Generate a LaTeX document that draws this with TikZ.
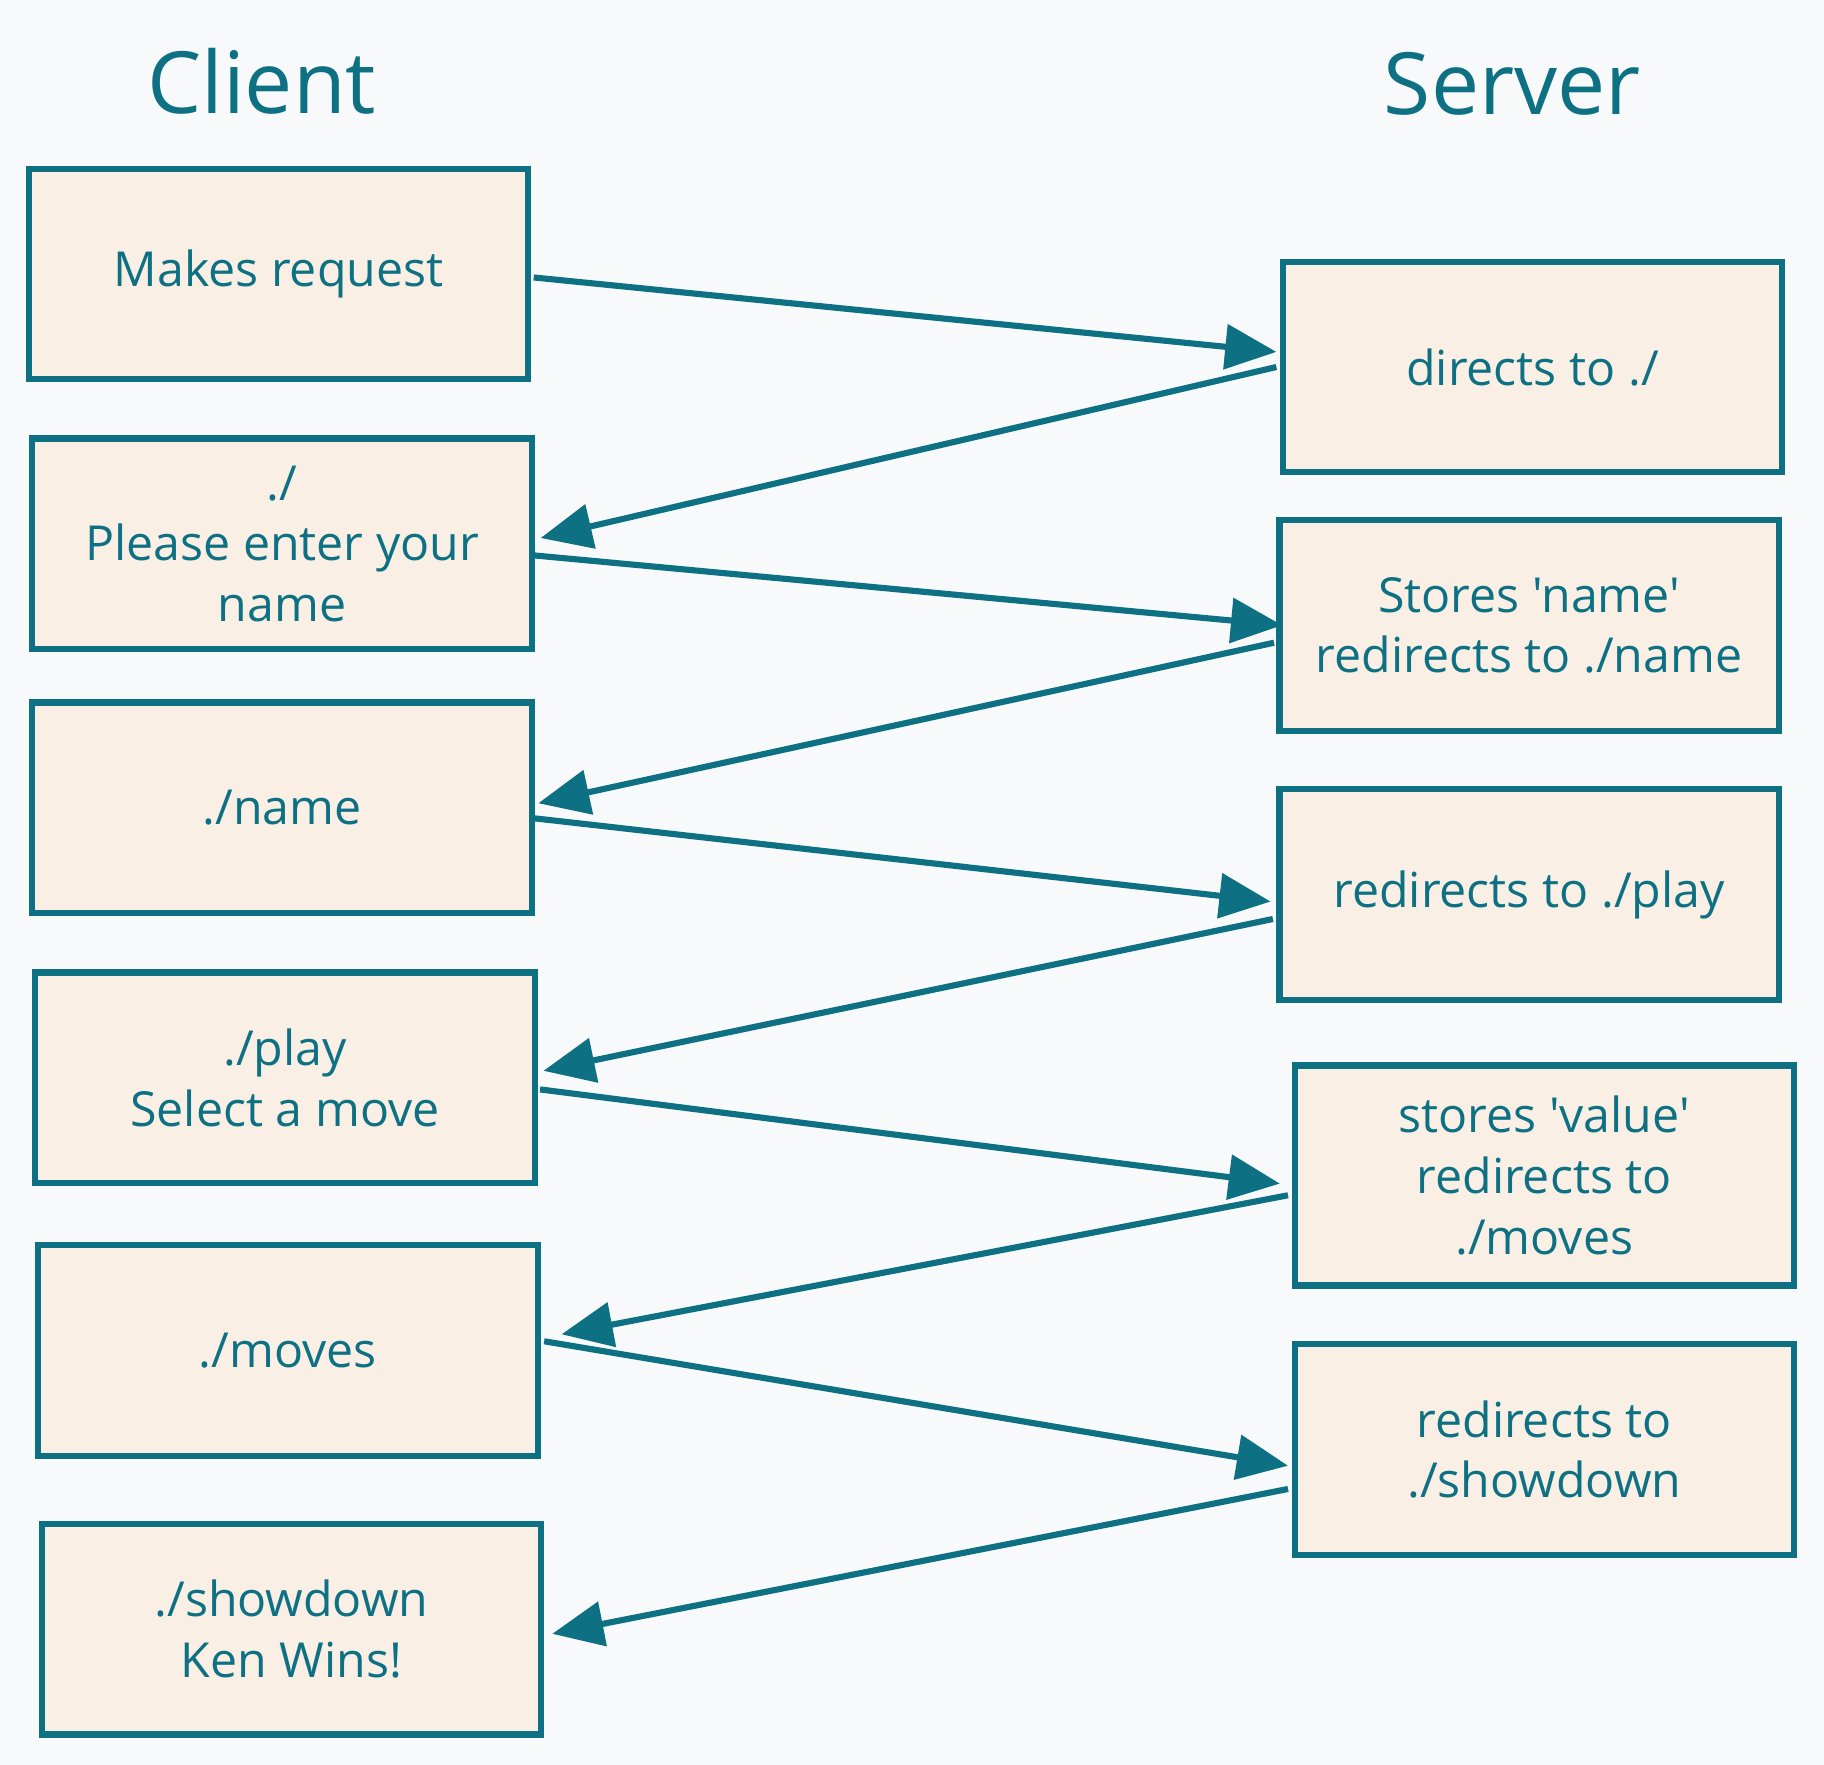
\documentclass[tikz,border=0pt]{standalone}
\usepackage{fontspec}
\setmainfont{Open Sans}[Ligatures=TeXOff]
\usetikzlibrary{arrows.meta,calc}
\definecolor{teal}{RGB}{14,113,131}
\definecolor{cream}{RGB}{249,239,229}
\definecolor{bgc}{RGB}{248,249,251}
\tikzset{
  box/.style={draw=teal, fill=cream, line width=1.5pt, minimum width=4.29cm, minimum height=1.81cm,
    inner sep=0pt, align=center, text=teal, font=\fontsize{11.8}{14.8}\selectfont},
  title/.style={text=teal, font=\fontsize{21}{25}\selectfont},
  conn/.style={draw=teal, line width=1.5pt, -{Triangle[length=0.44cm,width=0.38cm]}}
}
\begin{document}
\begin{tikzpicture}[x=0.01cm,y=-0.01cm]
\fill[bgc] (0,0) rectangle (1568,1517);
\useasboundingbox (0,0) rectangle (1568,1517);
\node[title] (tc) at (225,70) {Client};
\node[title] (ts) at (1300,72) {Server};

\node[box] (c1) at (239.5,235.5) {Makes request};
\node[box] (c2) at (242.5,467.5) {./\\Please enter your\\name};
\node[box] (c3) at (242.5,694.5) {./name};
\node[box] (c4) at (245,926.5) {./play\\Select a move};
\node[box] (c5) at (247.5,1161) {./moves};
\node[box] (c6) at (250.5,1400.5) {./showdown\\Ken Wins!};

\node[box] (s1) at (1317.5,315.5) {directs to ./};
\node[box] (s2) at (1314.5,537.5) {Stores 'name'\\redirects to ./name};
\node[box] (s3) at (1314.5,769) {redirects to ./play};
\node[box, minimum height=1.89cm] (s4) at (1327.5,1010.5) {stores 'value'\\redirects to\\./moves};
\node[box] (s5) at (1327.5,1246) {redirects to\\./showdown};

\draw[conn] ($(c1.east)+(2,3)$) -- ($(s1.west)+(-3,-13)$);
\draw[conn] ($(s1.west)+(-3,0)$) -- ($(c2.east)+(5,-5)$);
\draw[conn] ($(c2.east)+(0,10)$) -- ($(s2.west)+(5,0)$);
\draw[conn] ($(s2.west)+(-2,15)$) -- ($(c3.east)+(3,-4)$);
\draw[conn] ($(c3.east)+(0,9)$) -- ($(s3.west)+(-5,6)$);
\draw[conn] ($(s3.west)+(-3,21)$) -- ($(c4.east)+(5,-6)$);
\draw[conn] ($(c4.east)+(2,10)$) -- ($(s4.west)+(-10,7)$);
\draw[conn] ($(s4.west)+(-3,17)$) -- ($(c5.east)+(18,-14)$);
\draw[conn] ($(c5.east)+(3,-8)$) -- ($(s5.west)+(-3,14)$);
\draw[conn] ($(s5.west)+(-3,34)$) -- ($(c6.east)+(7,4)$);
\end{tikzpicture}
\end{document}
